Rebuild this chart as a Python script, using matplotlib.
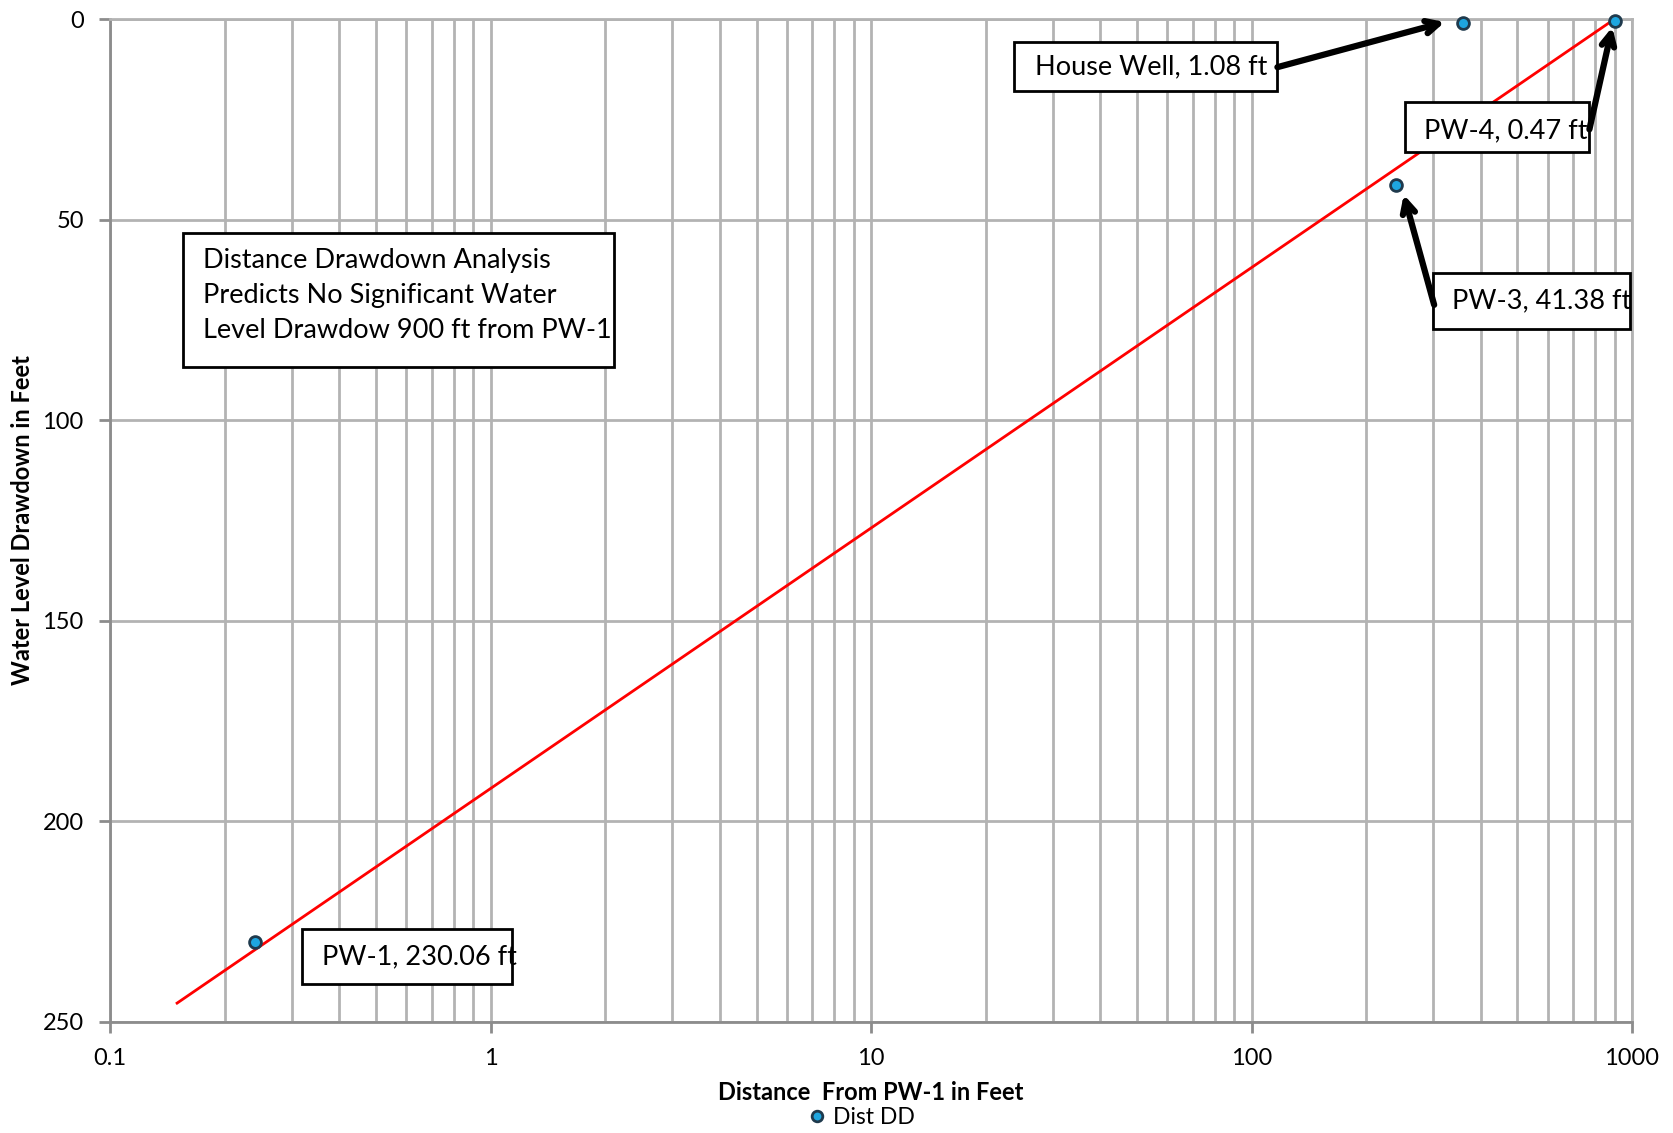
import matplotlib
matplotlib.use("Agg")
import matplotlib.pyplot as plt
from matplotlib.patches import Rectangle
from matplotlib.ticker import FixedLocator, FixedFormatter, LogLocator, NullFormatter

plt.rcParams['font.family'] = ['Lato', 'DejaVu Sans']

# Observed drawdown at each well
wells = ["PW-1", "PW-3", "House Well", "PW-4"]
distance_ft = [0.24, 240, 360, 900]
drawdown_ft = [230.06, 41.38, 1.08, 0.47]

# Log-distance trend line endpoints
trend_x = [0.15, 900]
trend_y = [245.3, 0.0]

x_ticks = [0.1, 1, 10, 100, 1000]
x_tick_labels = ["0.1", "1", "10", "100", "1000"]
y_ticks = [0, 50, 100, 150, 200, 250]

fig = plt.figure(figsize=(16.73, 11.33), dpi=100)
ax = fig.add_axes([0.0658, 0.098, 0.9097, 0.8852])

grid_c = "#b3b3b3"
spine_c = "#8c8c8c"

ax.set_xscale("log")
ax.set_xlim(0.1, 1000)
ax.set_ylim(250, 0)

ax.xaxis.set_major_locator(FixedLocator(x_ticks))
ax.xaxis.set_major_formatter(FixedFormatter(x_tick_labels))
ax.xaxis.set_minor_locator(LogLocator(base=10, subs=range(2, 10)))
ax.xaxis.set_minor_formatter(NullFormatter())
ax.set_yticks(y_ticks)

ax.grid(True, which="major", axis="both", color=grid_c, linewidth=2)
ax.grid(True, which="minor", axis="x", color=grid_c, linewidth=2)
ax.set_axisbelow(True)

for s in ax.spines.values():
    s.set_color(grid_c)
    s.set_linewidth(2)
ax.spines["left"].set_color(spine_c)
ax.spines["bottom"].set_color(spine_c)

ax.tick_params(axis="both", which="major", direction="out", length=8, width=2,
               color=spine_c, labelsize=17)
ax.tick_params(axis="x", which="major", pad=11)
ax.tick_params(axis="y", which="major", pad=11)
ax.tick_params(axis="x", which="minor", length=0)

ax.plot(trend_x, trend_y, color="#ff0000", linewidth=2, zorder=3)
ax.plot(distance_ft, drawdown_ft, linestyle="none", marker="o", markersize=8.5,
        markerfacecolor="#1ea6e0", markeredgecolor="#1f3a4d", markeredgewidth=2,
        label="Dist DD", zorder=4, clip_on=False)

ax.set_xlabel("Distance  From PW-1 in Feet", fontsize=17, fontweight="bold")
ax.xaxis.set_label_coords(0.5, -0.0708)
ax.xaxis.label.set_va("center")
ax.set_ylabel("Water Level Drawdown in Feet", fontsize=17, fontweight="bold")
ax.yaxis.set_label_coords(-0.0575, 0.5)
ax.yaxis.label.set_va("center")

leg = ax.legend(loc="center", bbox_to_anchor=(0.492, -0.0957), frameon=False,
                fontsize=16.5, handletextpad=0.1, handlelength=1.2, borderpad=0,
                markerscale=0.9)

tr = ax.transAxes
lbl_size = 19.5


def label_box(x0, x1, y0, y1, tx, ty, text, size=lbl_size, va="center"):
    ax.add_patch(Rectangle((x0, y0), x1 - x0, y1 - y0, transform=tr,
                           facecolor="white", edgecolor="black", linewidth=2,
                           zorder=5, clip_on=False))
    ax.text(tx, ty, text, transform=tr, ha="left", va=va, fontsize=size,
            zorder=6, linespacing=1.5)


def arrow(x0, y0, x1, y1):
    ax.annotate("", xy=(x1, y1), xytext=(x0, y0), xycoords=tr, textcoords=tr,
                arrowprops=dict(arrowstyle="->,head_length=0.9,head_width=0.45",
                                color="black", linewidth=4.5,
                                shrinkA=0, shrinkB=0), zorder=7)


label_box(0.594, 0.767, 0.928, 0.977, 0.608, 0.952, f"{wells[2]}, {drawdown_ft[2]:.2f} ft")
arrow(0.767, 0.952, 0.877, 0.997)

label_box(0.851, 0.972, 0.867, 0.917, 0.863, 0.889, f"{wells[3]}, {drawdown_ft[3]:.2f} ft")
arrow(0.972, 0.890, 0.987, 0.992)

label_box(0.869, 0.9986, 0.691, 0.747, 0.882, 0.719, f"{wells[1]}, {drawdown_ft[1]:.2f} ft")
arrow(0.870, 0.715, 0.850, 0.825)

label_box(0.126, 0.264, 0.038, 0.093, 0.139, 0.065, f"{wells[0]}, {drawdown_ft[0]:.2f} ft")

label_box(0.048, 0.331, 0.653, 0.787, 0.061, 0.724,
          "Distance Drawdown Analysis\nPredicts No Significant Water\nLevel Drawdow 900 ft from PW-1")

fig.savefig("out.png", dpi=100)
